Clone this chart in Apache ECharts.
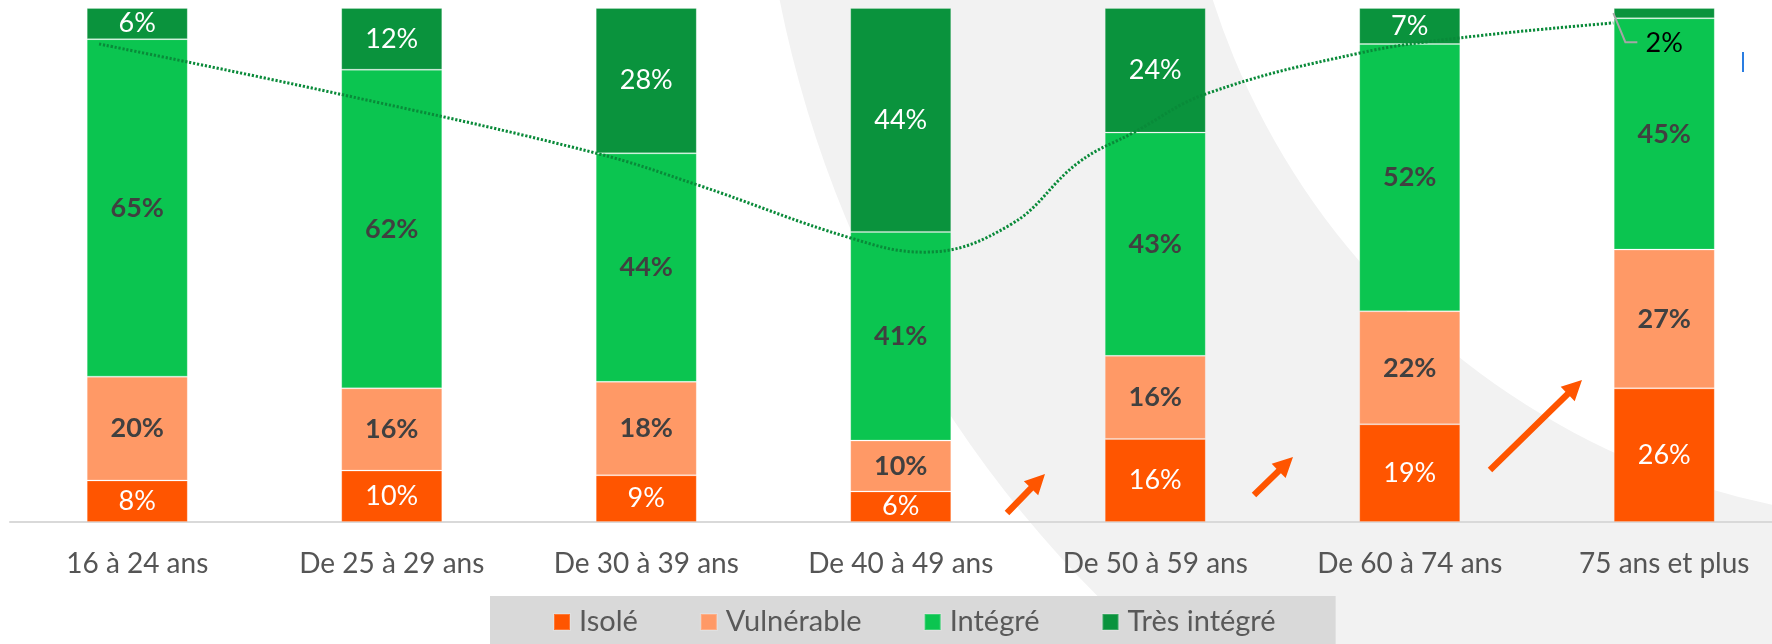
<!DOCTYPE html>
<html lang="fr">
<head>
    <meta charset="UTF-8">
    <title>Isolement par tranche d'âge</title>
    <script src="https://cdn.jsdelivr.net/npm/echarts@6/dist/echarts.min.js"></script>
    <style>
        html, body { margin: 0; padding: 0; background: #fff; }
        #chart { width: 1772px; height: 644px; }
    </style>
</head>
<body>
<div id="chart"></div>
<script>
    // catégories d'âge
    var categories = ['16 à 24 ans', 'De 25 à 29 ans', 'De 30 à 39 ans', 'De 40 à 49 ans',
        'De 50 à 59 ans', 'De 60 à 74 ans', '75 ans et plus'];

    // pourcentages affichés
    var isole = [8, 10, 9, 6, 16, 19, 26];
    var vulnerable = [20, 16, 18, 10, 16, 22, 27];
    var integre = [65, 62, 44, 41, 43, 52, 45];
    var tresIntegre = [6, 12, 28, 44, 24, 7, 2];

    // courbe de tendance (pointillés) : position x en rang de catégorie, y en %
    var tendanceX = [-0.15, 0.8, 1.8, 2.2, 2.8, 3.09, 3.43, 3.7, 3.92, 4.2, 4.8, 5.2, 5.8];
    var tendanceY = [93.0, 83.2, 71.8, 65.6, 55.3, 52.5, 57.8, 70.0, 75.9, 83.3, 91.2, 94.2, 97.1];

    var police = 'Lato, "Open Sans", sans-serif';
    var couleurs = ['#ff5500', '#ff9966', '#0bc550', '#0a933d'];

    // chaque barre est ramenée à 100 %
    var totaux = categories.map(function (c, i) {
        return isole[i] + vulnerable[i] + integre[i] + tresIntegre[i];
    });
    function parts(arr) {
        return arr.map(function (v, i) { return v / totaux[i] * 100; });
    }
    function etiquette(arr) {
        return function (p) { return arr[p.dataIndex] + '%'; };
    }

    var dataTres = parts(tresIntegre).map(function (v, i) {
        if (i === categories.length - 1) {
            return {value: v, label: {color: '#000', offset: [0, 30]}};
        }
        return v;
    });

    var tendance = tendanceX.map(function (x, i) { return [x, tendanceY[i]]; });

    // flèches orange (pixels)
    var fleches = [
        [1007, 513, 1045, 474],
        [1254, 495, 1293, 457],
        [1490, 470, 1582, 380]
    ];
    function flecheShape(x1, y1, x2, y2) {
        var dx = x2 - x1, dy = y2 - y1;
        var len = Math.sqrt(dx * dx + dy * dy);
        var ux = dx / len, uy = dy / len;
        var nx = -uy, ny = ux;
        var sw = 3.2, hl = 20, hw = 10;
        var bx = x2 - ux * hl, by = y2 - uy * hl;
        return [
            [x1 + nx * sw, y1 + ny * sw],
            [bx + nx * sw, by + ny * sw],
            [bx + nx * hw, by + ny * hw],
            [x2, y2],
            [bx - nx * hw, by - ny * hw],
            [bx - nx * sw, by - ny * sw],
            [x1 - nx * sw, y1 - ny * sw]
        ];
    }

    var graphics = [
        {   // grand arc gris en fond
            type: 'sector',
            silent: true,
            z: -10,
            shape: {cx: 1927, cy: -229, r0: 750, r: 1170},
            style: {fill: '#f2f2f2'}
        },
        {
            type: 'rect',
            silent: true,
            z: 100,
            shape: {x: 1742, y: 52, width: 2, height: 20},
            style: {fill: '#2a7de1'}
        }
    ];
    fleches.forEach(function (f) {
        graphics.push({
            type: 'polygon',
            silent: true,
            z: 100,
            shape: {points: flecheShape(f[0], f[1], f[2], f[3])},
            style: {fill: '#ff5500'}
        });
    });

    var labelBase = {
        show: true,
        position: 'inside',
        fontFamily: police,
        fontSize: 27
    };
    var bord = {borderColor: 'rgba(255,255,255,0.2)', borderWidth: 1};

    var chart = echarts.init(document.getElementById('chart'), null, {renderer: 'canvas'});

    var option = {
        animation: false,
        backgroundColor: '#ffffff',
        color: couleurs,
        grid: {
            left: 10,
            top: 8,
            bottom: 122,
            width: 1781.5,
            outerBoundsMode: 'none',
            containLabel: false
        },
        legend: {
            data: ['Isolé', 'Vulnérable', 'Intégré', 'Très intégré'],
            left: 490,
            top: 596,
            icon: 'rect',
            itemWidth: 16,
            itemHeight: 16,
            itemGap: 62,
            padding: [11, 60, 20, 63],
            backgroundColor: '#d9d9d9',
            textStyle: {
                fontFamily: police,
                fontSize: 29,
                lineHeight: 30,
                color: '#595959',
                padding: [0, 0, 0, 4]
            }
        },
        xAxis: [
            {
                type: 'category',
                data: categories,
                axisLine: {lineStyle: {color: '#d9d9d9', width: 2}},
                axisTick: {show: false},
                axisLabel: {
                    interval: 0,
                    margin: 27,
                    fontFamily: police,
                    fontSize: 28,
                    lineHeight: 30,
                    color: '#555555'
                }
            },
            {
                type: 'value',
                min: -0.5,
                max: 6.5,
                show: false
            }
        ],
        yAxis: {
            type: 'value',
            min: 0,
            max: 100,
            show: false
        },
        series: [
            {
                name: 'Isolé',
                type: 'bar',
                stack: 'total',
                barWidth: 101,
                itemStyle: Object.assign({color: couleurs[0]}, bord),
                label: Object.assign({}, labelBase, {color: '#ffffff', formatter: etiquette(isole)}),
                data: parts(isole)
            },
            {
                name: 'Vulnérable',
                type: 'bar',
                stack: 'total',
                barWidth: 101,
                itemStyle: Object.assign({color: couleurs[1]}, bord),
                label: Object.assign({}, labelBase, {color: '#404040', fontWeight: 'bold', formatter: etiquette(vulnerable)}),
                data: parts(vulnerable)
            },
            {
                name: 'Intégré',
                type: 'bar',
                stack: 'total',
                barWidth: 101,
                itemStyle: Object.assign({color: couleurs[2]}, bord),
                label: Object.assign({}, labelBase, {color: '#404040', fontWeight: 'bold', formatter: etiquette(integre)}),
                data: parts(integre)
            },
            {
                name: 'Très intégré',
                type: 'bar',
                stack: 'total',
                barWidth: 101,
                itemStyle: Object.assign({color: couleurs[3]}, bord),
                label: Object.assign({}, labelBase, {color: '#ffffff', formatter: etiquette(tresIntegre)}),
                data: dataTres
            },
            {
                type: 'line',
                xAxisIndex: 1,
                smooth: 0.4,
                symbol: 'none',
                silent: true,
                z: 5,
                lineStyle: {color: '#098a39', width: 3, type: [2.2, 1.8]},
                data: tendance
            }
        ],
        graphic: graphics
    };
    chart.setOption(option);

    // trait de rappel du « 2% »
    var n = categories.length - 1;
    var p0 = chart.convertToPixel({xAxisIndex: 1, yAxisIndex: 0}, [n - 0.2, 100 - tresIntegre[n] / totaux[n] * 50]);
    graphics.push({
        type: 'polyline',
        silent: true,
        z: 100,
        shape: {points: [[p0[0], p0[1]], [p0[0] + 12, p0[1] + 29], [p0[0] + 24, p0[1] + 29]]},
        style: {stroke: '#a6a6a6', lineWidth: 2, fill: null}
    });
    chart.setOption({graphic: graphics});
</script>
</body>
</html>
